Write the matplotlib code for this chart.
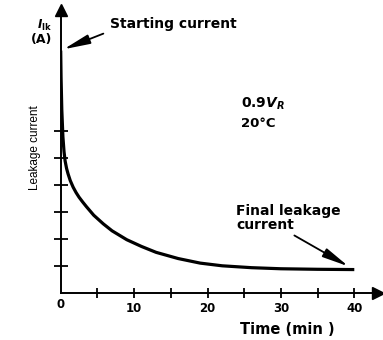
import matplotlib
matplotlib.use("Agg")
import matplotlib.pyplot as plt

# leakage current decay over time at 0.9 V_R, 20 degC (relative units)
time_min = [0, 0.05, 0.15, 0.3, 0.45, 0.6, 0.8, 1.0, 1.3, 1.7, 2.1, 2.5, 3.0,
            3.5, 4.5, 5.8, 7, 9, 11, 13, 16, 19, 22, 26, 30, 35, 40]
leak_current = [9.0, 8.0, 6.8, 5.8, 5.25, 4.9, 4.62, 4.42, 4.17, 3.92, 3.72,
                3.55, 3.37, 3.2, 2.88, 2.56, 2.3, 1.97, 1.72, 1.5, 1.27, 1.10,
                1.0, 0.93, 0.89, 0.87, 0.86]
x_ticks = [5, 10, 15, 20, 25, 30, 35, 40]
x_labels = ["", "10", "", "20", "", "30", "", "40"]
y_ticks = [1, 2, 3, 4, 5, 6]

plt.rcParams['font.family'] = ['DejaVu Sans']
plt.rcParams['mathtext.fontset'] = 'dejavusans'

W, H = 383, 340
fig = plt.figure(figsize=(W / 100, H / 100), dpi=100)
# axes box in pixels: origin at (61, 293), arrow tips near x=380 and y=8
x0, y0, x1, y1 = 60.7, 292.7, 378.0, 10.0
ax = fig.add_axes([x0 / W, 1 - y0 / H, (x1 - x0) / W, (y0 - y1) / H])

px_per_min = 7.34
px_per_unit = 26.9
ax.set_xlim(0, (x1 - x0) / px_per_min)
ax.set_ylim(0, (y0 - y1) / px_per_unit)

ax.plot(time_min, leak_current, color='black', lw=2.3,
        solid_capstyle='butt', solid_joinstyle='round')

for side in ('top', 'right'):
    ax.spines[side].set_visible(False)
for side in ('left', 'bottom'):
    ax.spines[side].set_linewidth(1.4)

# arrow heads on both axes
ax.plot(1, 0, marker='>', color='black', ms=8, transform=ax.get_yaxis_transform(), clip_on=False)
ax.plot(0, 1, marker='^', color='black', ms=8, transform=ax.get_xaxis_transform(), clip_on=False)

ax.set_xticks(x_ticks)
ax.set_xticklabels(x_labels)
ax.set_yticks(y_ticks)
ax.set_yticklabels([])
ax.tick_params(axis='x', direction='inout', length=7, width=1.3, pad=3,
               labelsize=8.5, labelcolor='black')
ax.tick_params(axis='y', direction='inout', length=9.5, width=1.3)
for lbl in ax.get_xticklabels():
    lbl.set_fontweight('bold')

fig.text(61 / W, 1 - 305 / H, "0", ha='center', va='center', fontsize=8.5, fontweight='bold')

fig.text(287 / W, 1 - 330 / H, "Time (min )", ha='center', va='center',
         fontsize=10.5, fontweight='bold')
fig.text(35 / W, 1 - 148 / H, "Leakage current", ha='center', va='center',
         rotation=90, fontsize=8.5, family='Liberation Sans')
fig.text(45 / W, 1 - 25 / H, r"$\boldsymbol{I}_{\mathbf{lk}}$", ha='center', va='center', fontsize=8.5)
fig.text(42 / W, 1 - 40 / H, "(A)", ha='center', va='center', fontsize=9, fontweight='bold')

fig.text(241 / W, 1 - 104 / H, r"0.9$\boldsymbol{V}_{\boldsymbol{R}}$", ha='left', va='center',
         fontsize=10, fontweight='bold')
fig.text(241 / W, 1 - 123 / H, "20°C", ha='left', va='center',
         fontsize=9.5, fontweight='bold')

# annotations
head = '-|>,head_length=1.0,head_width=0.18'
ax.annotate("Starting current", xy=(time_min[0] + 0.4, leak_current[0] + 0.05),
            xytext=(110 / W, 1 - 24 / H), textcoords='figure fraction',
            fontsize=10, fontweight='bold', ha='left', va='center',
            arrowprops=dict(arrowstyle=head, color='black', lw=1.3,
                            mutation_scale=16, shrinkA=3, shrinkB=0,
                            relpos=(0, 0.0)))
ax.annotate("Final leakage\ncurrent", xy=(time_min[-1] - 0.8, leak_current[-1] + 0.12),
            xytext=(236 / W, 1 - 218 / H), textcoords='figure fraction',
            fontsize=10, fontweight='bold', ha='left', va='center', linespacing=1.0,
            arrowprops=dict(arrowstyle=head, color='black', lw=1.3,
                            mutation_scale=16, shrinkA=1, shrinkB=0,
                            relpos=(0.5, 0.0)))

fig.savefig("out.png", dpi=100)
